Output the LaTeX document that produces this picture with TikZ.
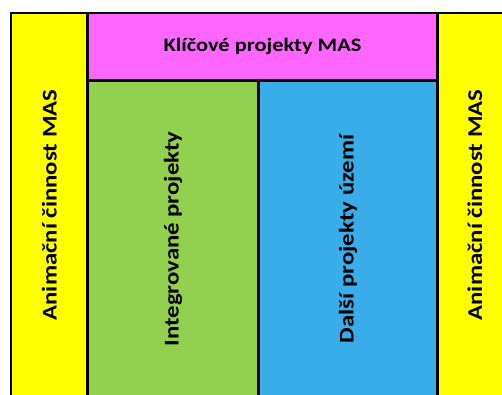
\documentclass[tikz,border=0pt]{standalone}
\usepackage{fontspec}
\setmainfont{Carlito}[FakeStretch=1.18]
\definecolor{masyellow}{HTML}{FFFF00}
\definecolor{maspink}{HTML}{FF66FF}
\definecolor{masgreen}{HTML}{92D050}
\definecolor{masblue}{HTML}{38ADE9}
\begin{document}
\begin{tikzpicture}[x=1pt,y=1pt,line width=2.8pt,
    box/.style={draw,inner sep=0pt,outer sep=0pt,font=\bfseries\fontsize{21}{24}\selectfont}]
    \useasboundingbox (0,0) rectangle (502,394);
    \clip (0,0) rectangle (502,394);
    \node[box,fill=masyellow,rotate=90,minimum width=384,minimum height=76.5] (anim1) at (49.25,189) {Animační činnost MAS};
    \node[box,fill=maspink,minimum width=350,minimum height=67.5,font=\bfseries\fontsize{19}{22}\selectfont] (klic) at (262.5,347.25) {Klíčové projekty MAS};
    \node[box,fill=masgreen,rotate=90,minimum width=316.5,minimum height=171] (integ) at (173,155.25) {Integrované projekty};
    \node[box,fill=masblue,rotate=90,minimum width=316.5,minimum height=179] (dalsi) at (348,155.25) {Další projekty území};
    \node[box,fill=masyellow,rotate=90,minimum width=384,minimum height=74.5] (anim2) at (474.75,189) {Animační činnost MAS};
\end{tikzpicture}
\end{document}
